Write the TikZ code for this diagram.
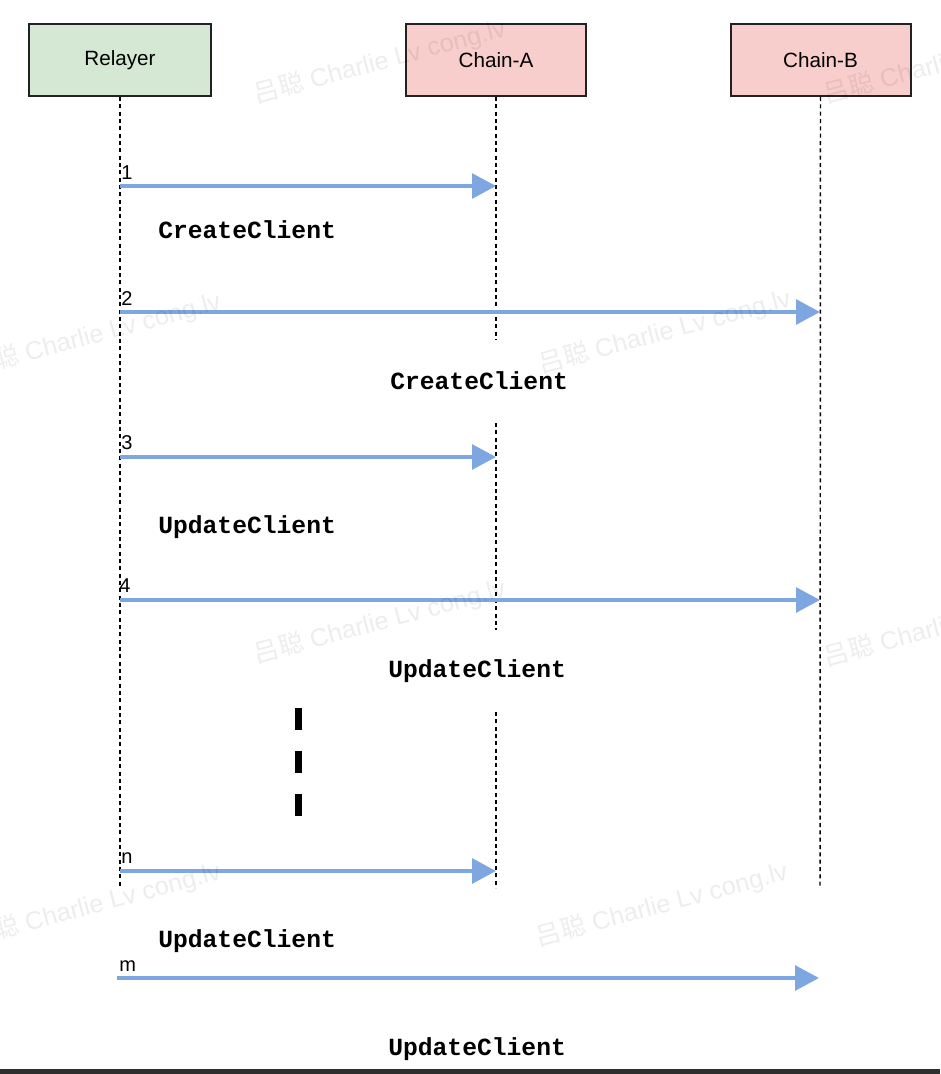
\documentclass[tikz,border=0pt]{standalone}
\usepackage{fontspec}
\setmainfont{Liberation Sans}
\newfontfamily\monofont{Liberation Mono}
\newfontfamily\cjk{Noto Sans CJK SC}
\usetikzlibrary{arrows.meta}
\definecolor{relfill}{HTML}{D5E8D4}
\definecolor{chainfill}{HTML}{F8CECC}
\definecolor{msgblue}{HTML}{7EA6E0}
\definecolor{boxline}{HTML}{222222}
\definecolor{band}{HTML}{2E2E2E}
\tikzset{
  actor/.style={draw=boxline, line width=1.5pt, minimum width=135pt, minimum height=54pt, inner sep=0pt, font=\fontsize{15.5}{18}\selectfont},
  life/.style={draw=black, line width=1.1pt, dash pattern=on 3pt off 2.5pt},
  msg/.style={draw=msgblue, line width=3pt, -{Triangle[length=18pt, width=18.5pt]}},
  num/.style={anchor=base west, inner sep=0pt, font=\fontsize{15}{18}\selectfont},
  call/.style={anchor=base west, inner sep=0pt, font=\monofont\bfseries\fontsize{18.5}{22}\selectfont},
  wm/.style={text=black, text opacity=0.07, rotate=15, inner sep=0pt, font=\fontsize{19}{22}\selectfont},
  gapdash/.style={draw=black, line width=5.25pt, dash pattern=on 16.5pt off 15.75pt}
}
\begin{document}
\begin{tikzpicture}[x=0.75pt, y=-0.75pt]
\useasboundingbox (0,0) rectangle (940,1074);
\fill[white] (0,0) rectangle (940,1074);

% actors
\node[actor, fill=relfill, minimum width=136.5pt] (rel) at (120,60) {Relayer};
\node[actor, fill=chainfill] (ca) at (496,60) {Chain-A};
\node[actor, fill=chainfill] (cb) at (820.5,60) {Chain-B};

% lifeline coordinates
\coordinate (relEnd) at (120,888);
\coordinate (cbEnd) at (820,888);
\coordinate (ca1e) at (496,340);
\coordinate (ca2s) at (496,423);
\coordinate (ca2e) at (496,630);
\coordinate (ca3s) at (496,712);
\coordinate (ca3e) at (496,888);

\draw[life] (rel.south) -- (relEnd);
\draw[life] (cb.south) -- (cbEnd);
\draw[life] (ca.south) -- (ca1e);
\draw[life] (ca2s) -- (ca2e);
\draw[life] (ca3s) -- (ca3e);

% message endpoints
\coordinate (r1) at (120,186); \coordinate (a1) at (496,186);
\coordinate (r2) at (120,312); \coordinate (b2) at (820,312);
\coordinate (r3) at (120,457); \coordinate (a3) at (496,457);
\coordinate (r4) at (120,600); \coordinate (b4) at (820,600);
\coordinate (rn) at (120,871); \coordinate (an) at (496,871);
\coordinate (rm) at (117,978); \coordinate (bm) at (819,978);

\draw[msg] (r1) -- (a1);
\draw[msg] (r2) -- (b2);
\draw[msg] (r3) -- (a3);
\draw[msg] (r4) -- (b4);
\draw[msg] (rn) -- (an);
\draw[msg] (rm) -- (bm);

% numbers
\node[num] (n1) at (121,179) {1};
\node[num] (n2) at (121,305) {2};
\node[num] (n3) at (121,449) {3};
\node[num] (n4) at (119,592) {4};
\node[num] (nn) at (121,863) {n};
\node[num] (nm) at (119,971) {m};

% call labels
\node[call] (l1) at (158,238) {CreateClient};
\node[call] (l2) at (390,389) {CreateClient};
\node[call] (l3) at (158,533) {UpdateClient};
\node[call] (l4) at (388,677) {UpdateClient};
\node[call] (l5) at (158,947) {UpdateClient};
\node[call] (l6) at (388,1055) {UpdateClient};

% omitted steps
\coordinate (gs) at (298,708);
\coordinate (ge) at (298,818);
\draw[gapdash] (gs) -- (ge);

% bottom band
\fill[band] (0,1069) rectangle (940,1074);

% watermarks
\foreach \cx/\cy [count=\i] in {380/62, 950/62, 95/335, 665/332, 380/622, 950/625, 95/905, 662/905} {
  \node[wm] (wm\i) at (\cx,\cy) {{\cjk 吕聪} Charlie Lv cong.lv};
}
\end{tikzpicture}
\end{document}
